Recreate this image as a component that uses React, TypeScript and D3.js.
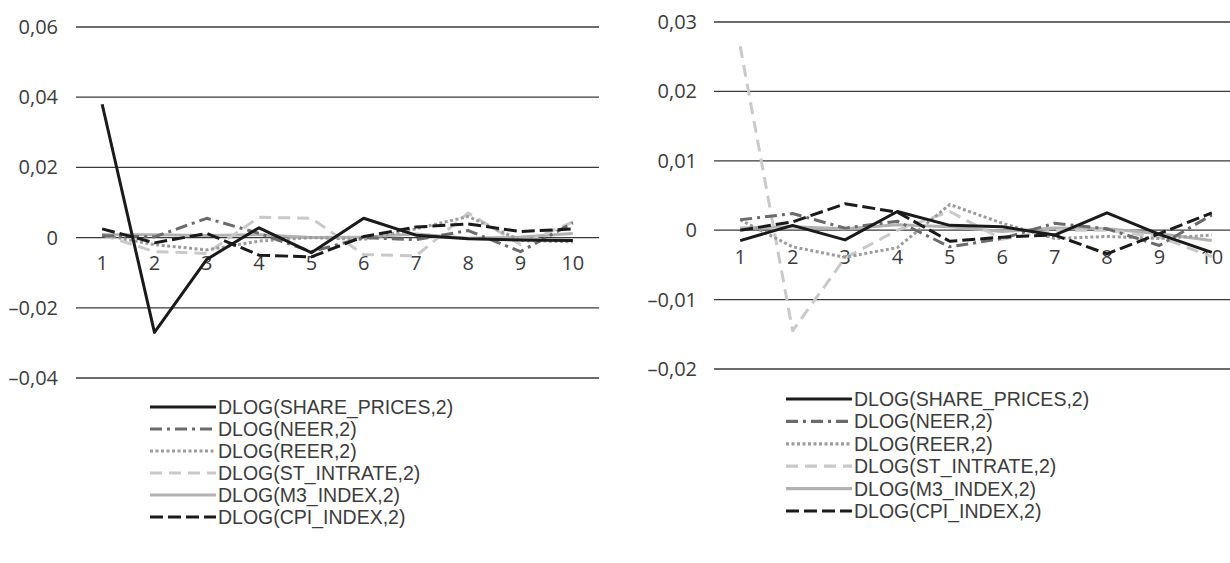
import React from "react";
import * as d3 from "d3";

const categories = ["1", "2", "3", "4", "5", "6", "7", "8", "9", "10"];

const seriesNames = [
  "DLOG(SHARE_PRICES,2)",
  "DLOG(NEER,2)",
  "DLOG(REER,2)",
  "DLOG(ST_INTRATE,2)",
  "DLOG(M3_INDEX,2)",
  "DLOG(CPI_INDEX,2)",
];

// Left panel values
const leftShare = [0.038, -0.027, -0.0062, 0.0028, -0.0043, 0.0055, 0.0007, -0.0003, -0.0007, -0.0008];
const leftNeer = [0.0005, 0.0002, 0.0055, 0.0012, -0.004, 0.0, -0.0006, 0.002, -0.004, 0.0042];
const leftReer = [0.0008, -0.002, -0.0035, -0.001, 0.0, -0.0005, 0.0025, 0.006, -0.0008, -0.0012];
const leftSt = [0.0008, -0.004, -0.0045, 0.0058, 0.0055, -0.0048, -0.0052, 0.007, -0.002, 0.0045];
const leftM3 = [0.0008, 0.0008, 0.0006, 0.0008, 0.0, 0.0002, 0.001, -0.0002, 0.0002, 0.0012];
const leftCpi = [0.0025, -0.0015, 0.0012, -0.005, -0.0055, 0.0003, 0.003, 0.0039, 0.0017, 0.0025];

// Right panel values
const rightShare = [-0.0015, 0.0007, -0.0014, 0.0027, 0.0007, 0.0005, -0.0007, 0.0025, -0.0006, -0.0032];
const rightNeer = [0.0015, 0.0024, 0.0003, 0.0013, -0.0024, -0.0012, 0.001, 0.0002, -0.0022, 0.0022];
const rightReer = [0.0015, -0.0024, -0.0039, -0.0025, 0.0037, 0.001, -0.0012, -0.0009, -0.0012, -0.0007];
const rightSt = [0.0265, -0.0145, -0.004, 0.0, 0.0027, -0.0013, 0.0, 0.0, -0.001, -0.0038];
const rightM3 = [0.0003, 0.0005, 0.0002, 0.0008, 0.0005, -0.0002, 0.0003, 0.0002, -0.0005, -0.0015];
const rightCpi = [0.0, 0.0012, 0.0038, 0.0026, -0.0016, -0.001, -0.0007, -0.0034, -0.0005, 0.0025];

const leftTicks = [0.06, 0.04, 0.02, 0, -0.02, -0.04];
const rightTicks = [0.03, 0.02, 0.01, 0, -0.01, -0.02];

const styles = [
  { color: "#1a1a1a", dash: "none" },
  { color: "#6b6b6b", dash: "12,5,3,5" },
  { color: "#9c9c9c", dash: "3,2.5" },
  { color: "#c9c9c9", dash: "12,7" },
  { color: "#b2b2b2", dash: "none" },
  { color: "#1a1a1a", dash: "13,5" },
];

const FONT = "'Open Sans', sans-serif";
const LEGEND_FONT = "'Liberation Sans Narrow', 'Arial Narrow', sans-serif";

function fmt(v: number) {
  if (v === 0) return "0";
  const s = Math.abs(v).toFixed(2).replace(".", ",");
  return v < 0 ? "\u2013" + s : s;
}

function Panel(props: {
  data: number[][];
  ticks: number[];
  domain: [number, number];
  xRange: [number, number];
  yRange: [number, number];
  labelRight: number;
  xLabelY: number;
  legendX: number;
  legendY: number;
  legendStep: number;
}) {
  const { data, ticks, domain, xRange, yRange, labelRight, xLabelY, legendX, legendY, legendStep } = props;
  const x = d3.scaleBand<string>().domain(categories).range(xRange);
  const y = d3.scaleLinear().domain(domain).range(yRange);
  const cx = (c: string) => (x(c) as number) + x.bandwidth() / 2;
  const line = d3
    .line<number>()
    .x((_, i) => cx(categories[i]))
    .y((d) => y(d));
  const order = [4, 3, 2, 1, 5, 0];
  return (
    <g>
      {ticks.map((t) => (
        <g key={t}>
          <line x1={xRange[0]} x2={xRange[1]} y1={y(t)} y2={y(t)} stroke="#3a3a3a" strokeWidth={1.3} />
          <text x={labelRight} y={y(t) + 7} textAnchor="end" fontFamily={FONT} fontSize={20} fill="#3c3c3c">
            {fmt(t)}
          </text>
        </g>
      ))}
      {categories.map((c) => (
        <text key={c} x={cx(c)} y={xLabelY} textAnchor="middle" fontFamily={FONT} fontSize={20} fill="#3c3c3c">
          {c}
        </text>
      ))}
      {order.map((i) => (
        <path
          key={i}
          d={line(data[i]) as string}
          fill="none"
          stroke={styles[i].color}
          strokeWidth={3}
          strokeDasharray={styles[i].dash}
          strokeLinejoin="round"
        />
      ))}
      {seriesNames.map((n, i) => (
        <g key={n} transform={`translate(${legendX},${legendY + i * legendStep})`}>
          <line x1={0} x2={66} y1={0} y2={0} stroke={styles[i].color} strokeWidth={3.2} strokeDasharray={styles[i].dash} />
          <text x={68} y={7} fontFamily={LEGEND_FONT} fontSize={19.5} fill="#3c3c3c">
            {n}
          </text>
        </g>
      ))}
    </g>
  );
}

export default function App() {
  return (
    <svg width={1230} height={563} style={{ position: "absolute", left: 0, top: 0, background: "#fff" }}>
      <Panel
        data={[leftShare, leftNeer, leftReer, leftSt, leftM3, leftCpi]}
        ticks={leftTicks}
        domain={[-0.04, 0.06]}
        xRange={[76, 599]}
        yRange={[378, 27]}
        labelRight={58}
        xLabelY={270}
        legendX={150}
        legendY={407}
        legendStep={22}
      />
      <Panel
        data={[rightShare, rightNeer, rightReer, rightSt, rightM3, rightCpi]}
        ticks={rightTicks}
        domain={[-0.02, 0.03]}
        xRange={[714, 1238]}
        yRange={[369, 22]}
        labelRight={697}
        xLabelY={264}
        legendX={786}
        legendY={399}
        legendStep={22.4}
      />
    </svg>
  );
}
